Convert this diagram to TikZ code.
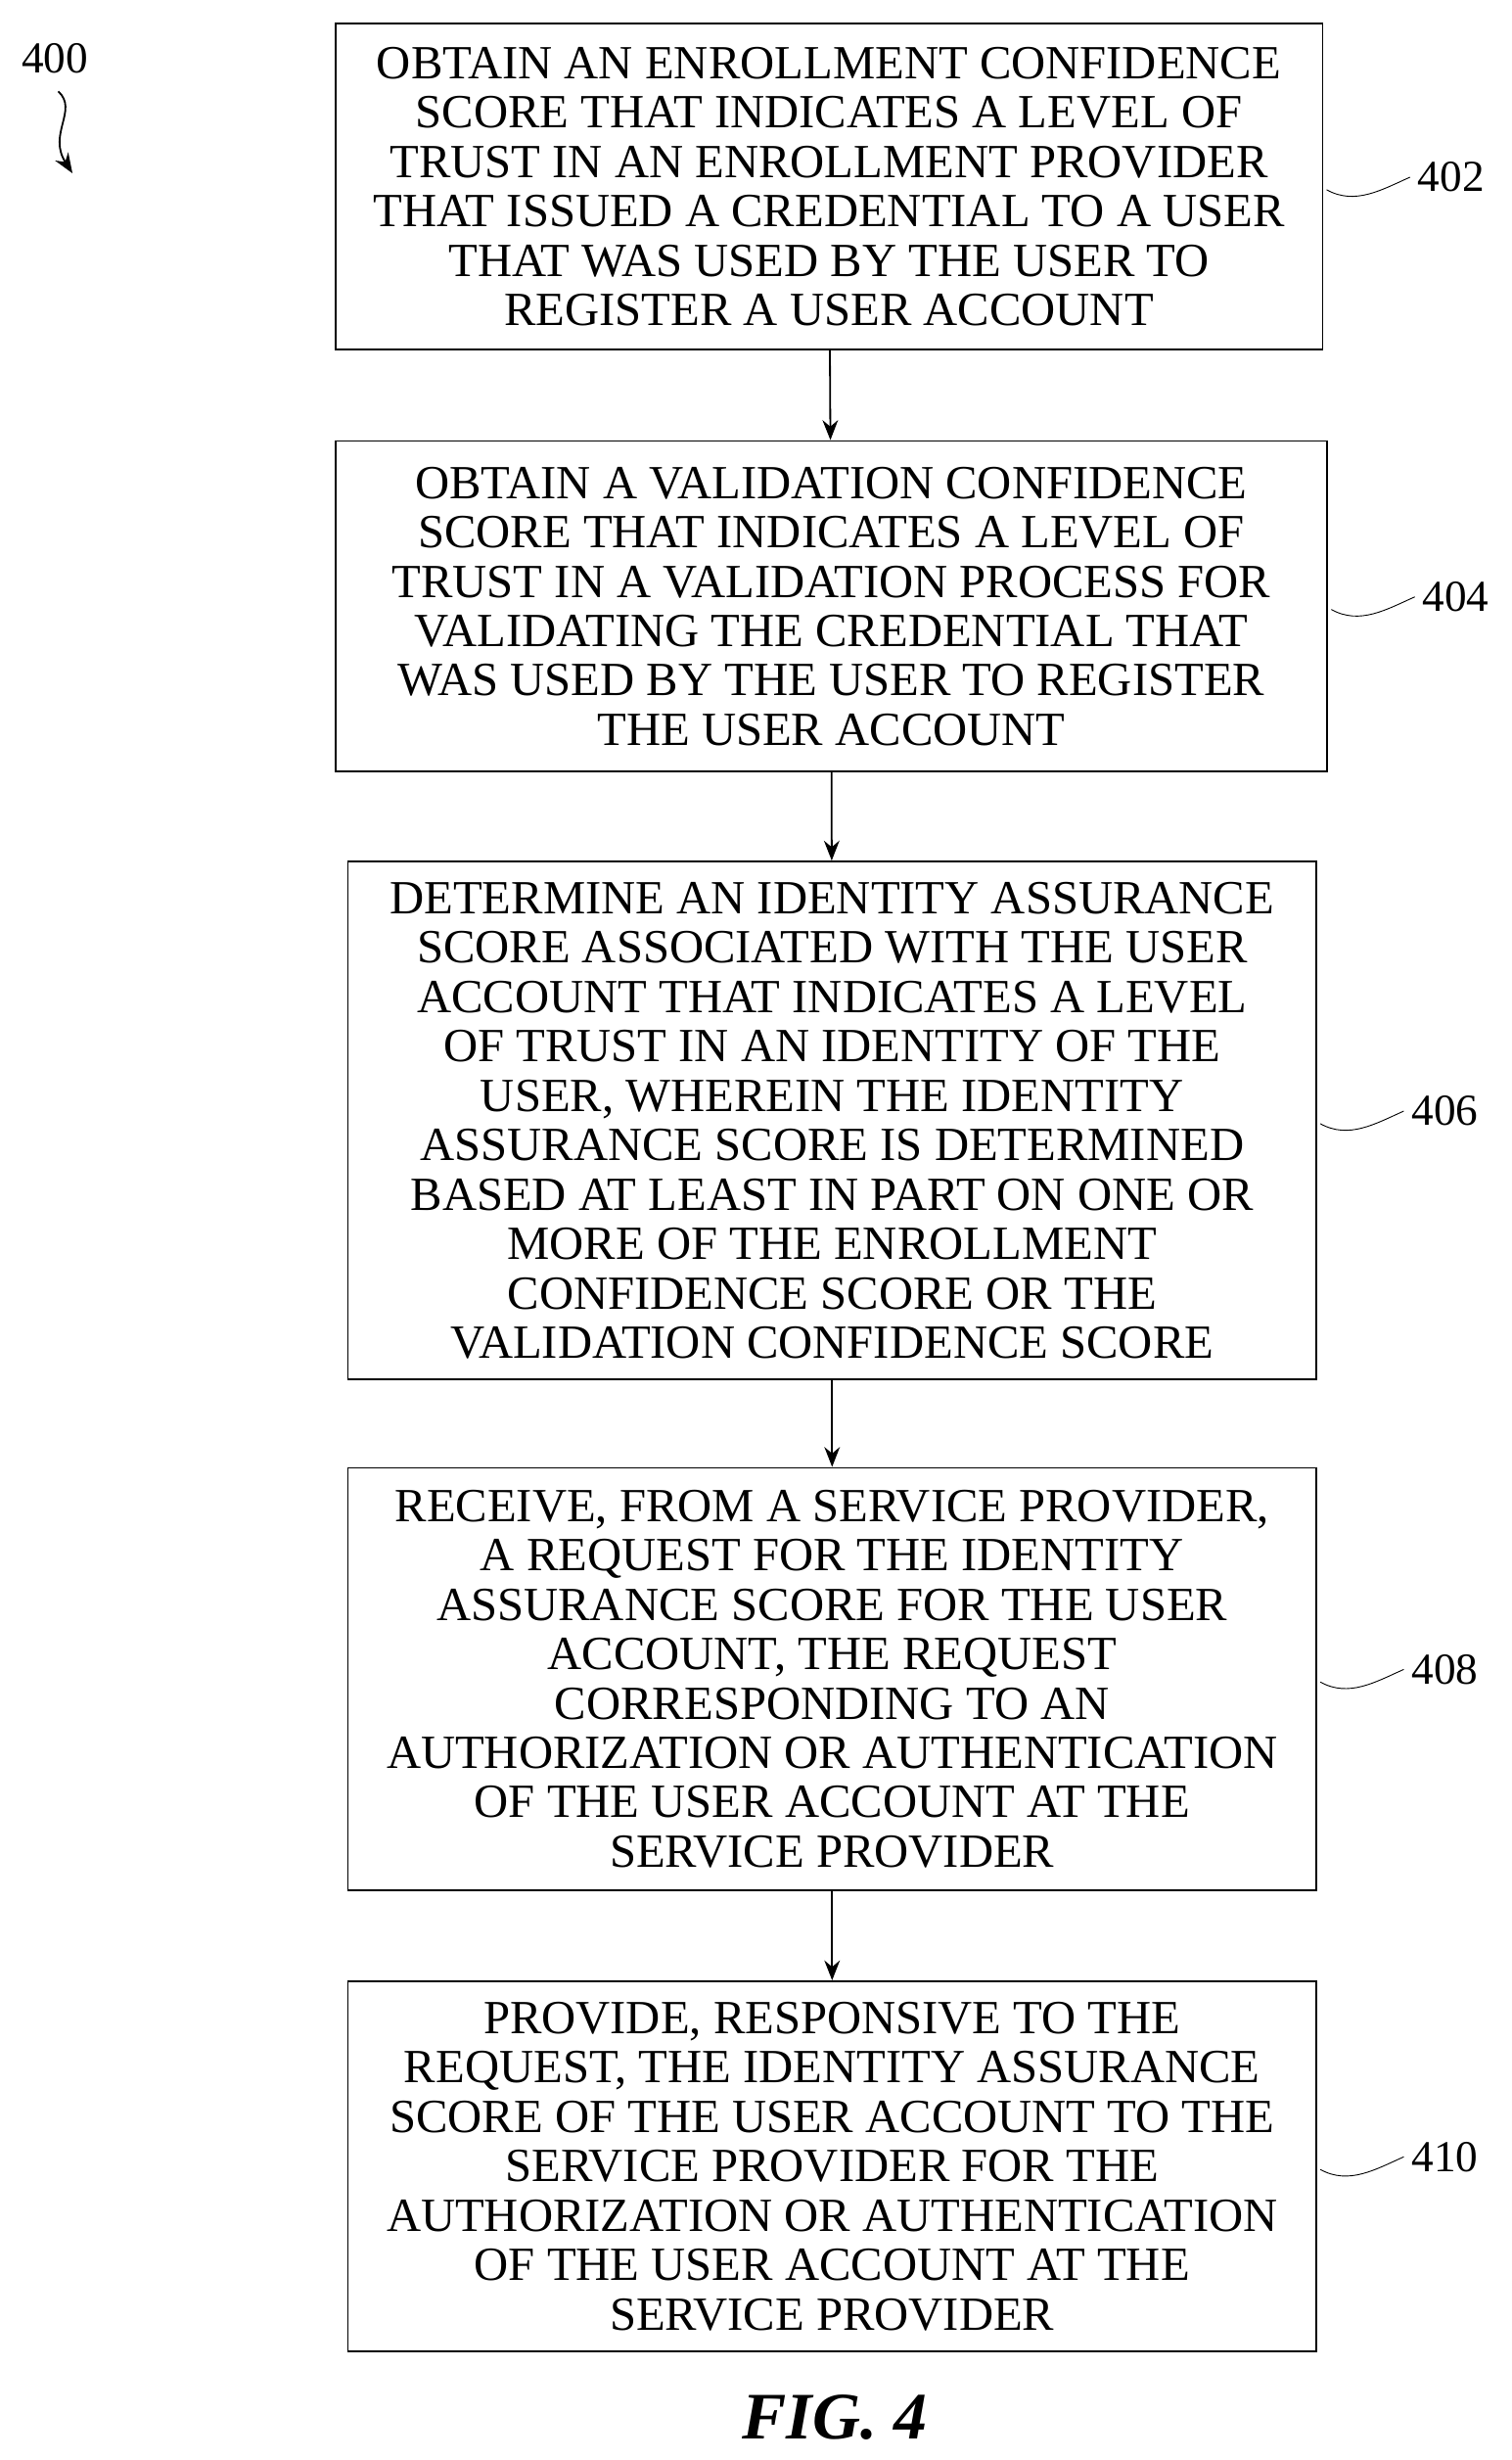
\documentclass[tikz,border=0pt]{standalone}
\usepackage{fontspec}
\setmainfont{Liberation Serif}
\usetikzlibrary{arrows,positioning}
\tikzset{>=stealth}
\tikzset{stepbox/.style={draw,thick,align=center,inner sep=0pt,font=\fontsize{21.5}{22.3}\selectfont},
  flow/.style={-{Stealth[length=9pt,width=7pt]},thick},
  squig/.style={thin},
  lbl/.style={font=\fontsize{20}{22}\selectfont,anchor=west}}
\usetikzlibrary{arrows.meta}
\begin{document}
\begin{tikzpicture}[x=0.025cm,y=-0.025cm]
\useasboundingbox (0,0) rectangle (960,1562);
% boxes
\node[stepbox,minimum width=627*0.025cm,minimum height=207*0.025cm] (b1) at (526.5,118.5) {OBTAIN AN ENROLLMENT CONFIDENCE\\SCORE THAT INDICATES A LEVEL OF\\TRUST IN AN ENROLLMENT PROVIDER\\THAT ISSUED A CREDENTIAL TO A USER\\THAT WAS USED BY THE USER TO\\REGISTER A USER ACCOUNT};
\node[stepbox,minimum width=630*0.025cm,minimum height=210*0.025cm] (b2) at (528,385) {OBTAIN A VALIDATION CONFIDENCE\\SCORE THAT INDICATES A LEVEL OF\\TRUST IN A VALIDATION PROCESS FOR\\VALIDATING THE CREDENTIAL THAT\\WAS USED BY THE USER TO REGISTER\\THE USER ACCOUNT};
\node[stepbox,minimum width=615*0.025cm,minimum height=329*0.025cm] (b3) at (528.5,711.5) {DETERMINE AN IDENTITY ASSURANCE\\SCORE ASSOCIATED WITH THE USER\\ACCOUNT THAT INDICATES A LEVEL\\OF TRUST IN AN IDENTITY OF THE\\USER, WHEREIN THE IDENTITY\\ASSURANCE SCORE IS DETERMINED\\BASED AT LEAST IN PART ON ONE OR\\MORE OF THE ENROLLMENT\\CONFIDENCE SCORE OR THE\\VALIDATION CONFIDENCE SCORE};
\node[stepbox,minimum width=615*0.025cm,minimum height=268*0.025cm] (b4) at (528.5,1066) {RECEIVE, FROM A SERVICE PROVIDER,\\A REQUEST FOR THE IDENTITY\\ASSURANCE SCORE FOR THE USER\\ACCOUNT, THE REQUEST\\CORRESPONDING TO AN\\AUTHORIZATION OR AUTHENTICATION\\OF THE USER ACCOUNT AT THE\\SERVICE PROVIDER};
\node[stepbox,minimum width=615*0.025cm,minimum height=235*0.025cm] (b5) at (528.5,1375.5) {PROVIDE, RESPONSIVE TO THE\\REQUEST, THE IDENTITY ASSURANCE\\SCORE OF THE USER ACCOUNT TO THE\\SERVICE PROVIDER FOR THE\\AUTHORIZATION OR AUTHENTICATION\\OF THE USER ACCOUNT AT THE\\SERVICE PROVIDER};
% arrows
\draw[flow] (b1) -- (b2);
\draw[flow] (b2) -- (b3);
\draw[flow] (b3) -- (b4);
\draw[flow] (b4) -- (b5);
% reference labels
\foreach \b/\n in {b1/402,b2/404,b3/406,b4/408,b5/410}{
  \node[lbl] (l\n) at ([xshift=55*0.025cm,yshift=0.15cm]\b.east) {\n};
  \draw[squig] ([xshift=0.05cm,yshift=-0.05cm]\b.east) .. controls +(18,10) and +(-18,8) .. (l\n.west);
}
\node[font=\fontsize{20}{22}\selectfont] (fig) at (35,37) {400};
\coordinate (tip) at (46,110);
\draw[-{Stealth[length=9pt,width=7pt]},thick] (37,58) .. controls (50,70) and (30,85) .. (tip);
\node[font=\bfseries\itshape\fontsize{30}{32}\selectfont] (cap) at (530,1535) {FIG. 4};
\end{tikzpicture}
\end{document}
